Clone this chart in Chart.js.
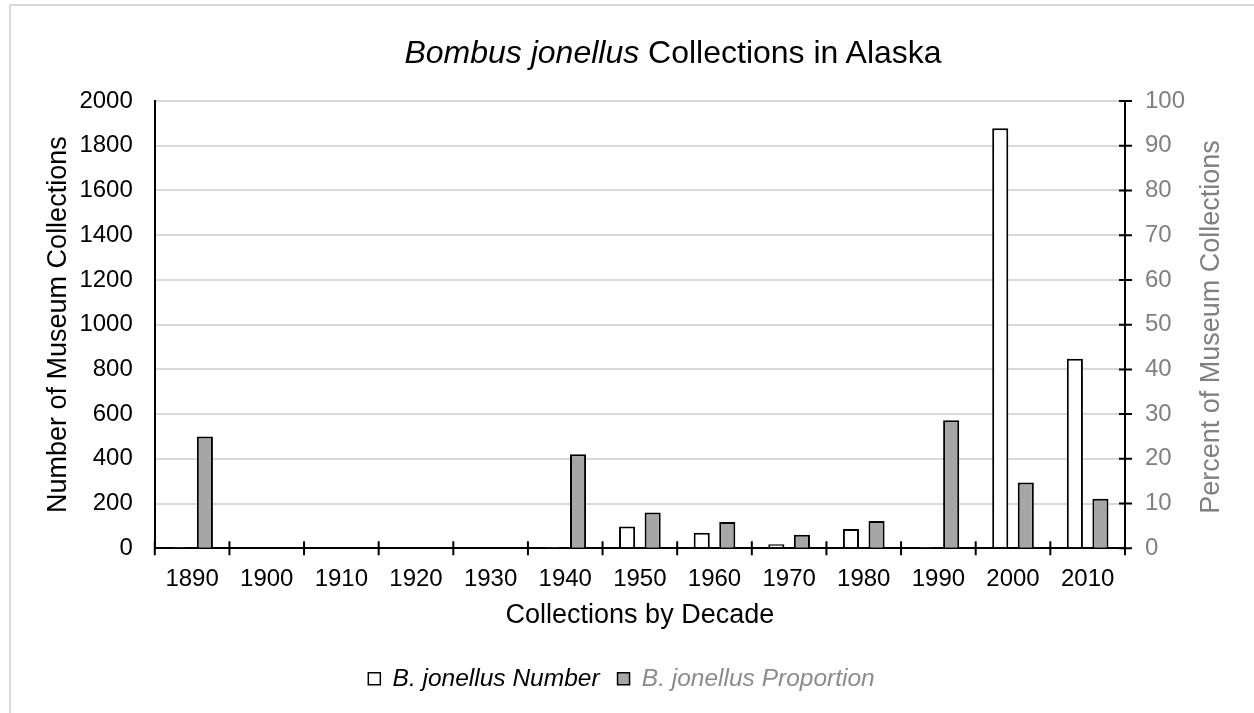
<!DOCTYPE html>
<html>
<head>
<meta charset="utf-8">
<script src="https://cdn.jsdelivr.net/npm/chart.js@4.4.1/dist/chart.umd.min.js"></script>
<style>
  html, body { margin: 0; padding: 0; background: #fff; }
  #wrap { position: relative; width: 1254px; height: 713px; }
  #frame { position: absolute; left: 9px; top: 4px; right: 0; bottom: 0;
           border-left: 2px solid #d9d9d9; border-top: 2px solid #d9d9d9; }
  #title { position: absolute; left: 0; right: 0; top: 34px; text-align: center;
           font-family: "Liberation Sans", Arial, sans-serif; font-size: 32px; color: #000; margin-left: 92px; }
  #rightTitle { position: absolute; left: 1210px; top: 327px; width: 500px; margin-left: -250px; margin-top: -16px;
           text-align: center; transform: rotate(-90deg); white-space: nowrap;
           font-family: "Liberation Sans", Arial, sans-serif; font-size: 27px; line-height: 32px; color: #808080; }
  canvas { position: absolute; left: 0; top: 0; }
</style>
</head>
<body>
<div id="wrap">
  <div id="frame"></div>
  <canvas id="jonellusChart" width="1254" height="713"></canvas>
  <div id="title"><i>Bombus jonellus</i> Collections in Alaska</div>
  <div id="rightTitle">Percent of Museum Collections</div>
</div>
<script>
// decades on the x axis
const decades = ['1890', '1900', '1910', '1920', '1930', '1940', '1950', '1960', '1970', '1980', '1990', '2000', '2010'];
// number of B. jonellus museum collections (left axis)
const jonellusNumber = [3, 0, 0, 0, 0, 3, 98, 70, 18, 86, 3, 1878, 848];
// percent of museum collections (right axis)
const jonellusProportion = [25, 0, 0, 0, 0, 21, 8, 5.9, 3.05, 6.1, 28.6, 14.7, 11.1];

const countTicks = [0, 200, 400, 600, 800, 1000, 1200, 1400, 1600, 1800, 2000];
const percentTicks = [0, 10, 20, 30, 40, 50, 60, 70, 80, 90, 100];

const font = 'Liberation Sans';

// crossing tick marks like the original (half inside, half outside)
const crossTicks = {
  id: 'crossTicks',
  afterDraw(chart) {
    const ctx = chart.ctx;
    const x = chart.scales.x;
    const y1 = chart.scales.y1;
    ctx.save();
    ctx.strokeStyle = '#000';
    ctx.lineWidth = 2;
    const half = (x.getPixelForValue(1) - x.getPixelForValue(0)) / 2;
    ctx.beginPath();
    for (let i = 0; i <= decades.length; i++) {
      const px = x.getPixelForValue(i) - half;
      ctx.moveTo(px, x.top - 7);
      ctx.lineTo(px, x.top + 7);
    }
    y1.ticks.forEach((t, i) => {
      const py = y1.getPixelForTick(i);
      ctx.moveTo(y1.left - 6, py);
      ctx.lineTo(y1.left + 7, py);
    });
    ctx.stroke();
    ctx.restore();
  }
};

new Chart(document.getElementById('jonellusChart'), {
  type: 'bar',
  data: {
    labels: decades,
    datasets: [{
      label: 'B. jonellus Number',
      data: jonellusNumber,
      yAxisID: 'y',
      backgroundColor: '#ffffff',
      borderColor: '#000000',
      borderWidth: 2,
      categoryPercentage: 0.685,
      barPercentage: 0.63
    }, {
      label: 'B. jonellus Proportion',
      data: jonellusProportion,
      yAxisID: 'y1',
      backgroundColor: '#a6a6a6',
      borderColor: '#000000',
      borderWidth: 2,
      categoryPercentage: 0.685,
      barPercentage: 0.63
    }]
  },
  options: {
    responsive: false,
    animation: false,
    layout: { padding: { left: 38, right: 49, top: 101, bottom: 12 } },
    plugins: {
      tooltip: { enabled: false },
      title: { display: false },
      legend: {
        position: 'bottom',
        labels: {
          font: { family: font, size: 24.5, style: 'italic' },
          boxWidth: 12,
          boxHeight: 12,
          padding: 18,
          generateLabels(chart) {
            return chart.data.datasets.map((ds, i) => ({
              text: ds.label,
              fillStyle: ds.backgroundColor,
              strokeStyle: '#000',
              lineWidth: 1.5,
              fontColor: i === 0 ? '#000000' : '#8c8c8c',
              datasetIndex: i
            }));
          }
        }
      }
    },
    scales: {
      x: {
        grid: { display: true, offset: true, drawOnChartArea: false, drawTicks: false, color: '#000' },
        border: { color: '#000', width: 2 },
        ticks: { color: '#000', font: { family: font, size: 24 }, padding: 17, maxRotation: 0 },
        title: { display: true, text: 'Collections by Decade', color: '#000', font: { family: font, size: 27 }, padding: { top: -12, bottom: 17 } }
      },
      y: {
        position: 'left',
        min: 0,
        max: 2000,
        afterBuildTicks(axis) { axis.ticks = countTicks.map(v => ({ value: v })); },
        afterFit(axis) { axis.width -= 21; },
        grid: { color: '#d9d9d9', lineWidth: 2, drawTicks: false },
        border: { color: '#000', width: 2 },
        ticks: { color: '#000', font: { family: font, size: 24 }, padding: 22, callback: v => String(v) },
        title: { display: true, text: 'Number of Museum Collections', color: '#000', font: { family: font, size: 27 }, padding: { top: 4, bottom: 4 } }
      },
      y1: {
        position: 'right',
        min: 0,
        max: 100,
        afterBuildTicks(axis) { axis.ticks = percentTicks.map(v => ({ value: v })); },
        grid: { drawOnChartArea: false, drawTicks: false },
        border: { color: '#000', width: 2 },
        ticks: { color: '#808080', font: { family: font, size: 24 }, padding: 20, callback: v => String(v) }
      }
    }
  },
  plugins: [crossTicks]
});
</script>
</body>
</html>
